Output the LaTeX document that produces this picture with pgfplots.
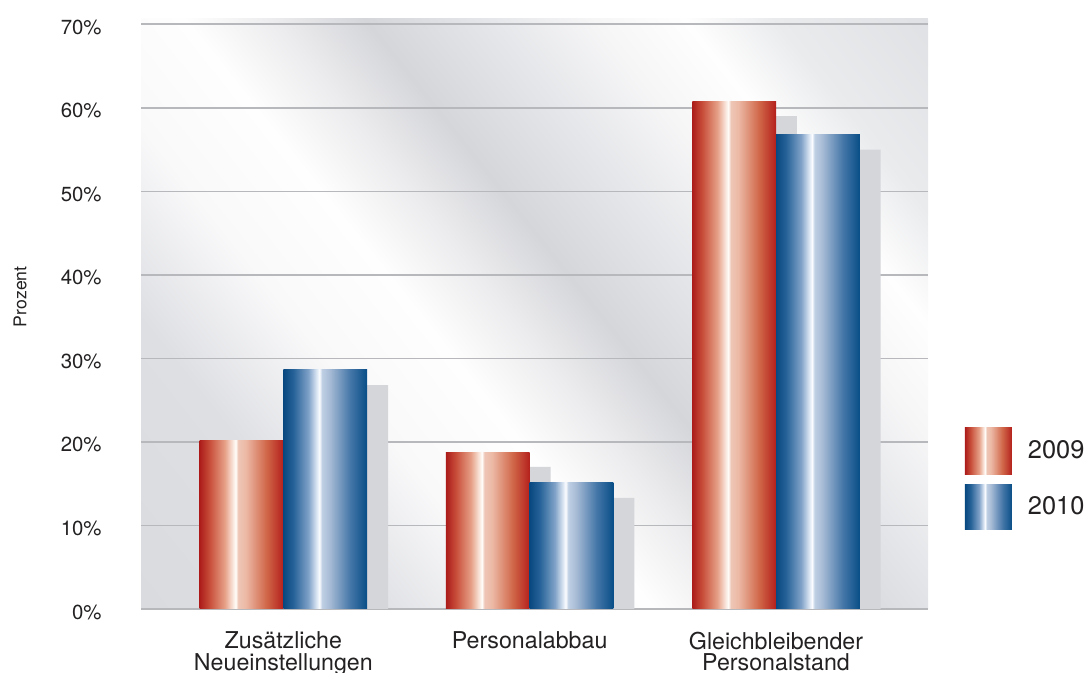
\documentclass[border=0pt]{standalone}
\usepackage{fontspec}
\setmainfont{TeX Gyre Heros}
\usepackage{pgfplots}
\pgfplotsset{compat=1.18}

% bar colours
\definecolor{rA}{RGB}{172,28,26}
\definecolor{rB}{RGB}{200,78,58}
\definecolor{rC}{RGB}{230,160,135}
\definecolor{rD}{RGB}{250,232,222}
\definecolor{rE}{RGB}{255,253,250}
\definecolor{rF}{RGB}{238,198,182}
\definecolor{rG}{RGB}{236,185,165}
\definecolor{rH}{RGB}{208,102,72}
\definecolor{rI}{RGB}{180,32,28}
\definecolor{bA}{RGB}{8,72,128}
\definecolor{bB}{RGB}{38,98,152}
\definecolor{bC}{RGB}{128,162,200}
\definecolor{bD}{RGB}{222,232,244}
\definecolor{bE}{RGB}{252,253,255}
\definecolor{bF}{RGB}{192,208,228}
\definecolor{bG}{RGB}{168,188,214}
\definecolor{bH}{RGB}{68,118,168}
\definecolor{bI}{RGB}{8,78,135}
% background
\definecolor{g221}{RGB}{218,219,223}
\definecolor{g224}{RGB}{222,223,227}
\definecolor{g248}{RGB}{249,249,250}
\definecolor{g250}{RGB}{254,254,254}
\definecolor{g238}{RGB}{236,236,238}
\definecolor{g217}{RGB}{213,214,218}
\definecolor{g232}{RGB}{230,231,234}
\definecolor{g245}{RGB}{246,246,247}
\definecolor{g236}{RGB}{234,235,237}
\definecolor{g226}{RGB}{224,225,228}
\definecolor{shadowgray}{RGB}{213,214,218}
\definecolor{gridgray}{RGB}{182,184,188}
\definecolor{txt}{RGB}{35,33,34}

\pgfdeclarehorizontalshading{redbar}{100bp}{color(0bp)=(rA); color(25bp)=(rA); color(31bp)=(rB); color(40bp)=(rC); color(45bp)=(rD); color(46.5bp)=(rE); color(48bp)=(rF); color(52.5bp)=(rG); color(65bp)=(rH); color(75bp)=(rI); color(100bp)=(rI)}
\pgfdeclarehorizontalshading{bluebar}{100bp}{color(0bp)=(bA); color(25bp)=(bA); color(31bp)=(bB); color(40bp)=(bC); color(45bp)=(bD); color(46.5bp)=(bE); color(48bp)=(bF); color(52.5bp)=(bG); color(65bp)=(bH); color(75bp)=(bI); color(100bp)=(bI)}
\pgfdeclarehorizontalshading{bgstripes}{800bp}{color(0bp)=(g221); color(90bp)=(g224); color(150bp)=(g248); color(200bp)=(g250); color(235bp)=(g238); color(270bp)=(g217); color(320bp)=(g232); color(360bp)=(g245); color(395bp)=(g250); color(430bp)=(g236); color(490bp)=(g226)}

\pgfplotsset{
  redbarstyle/.style={ybar, bar width=0.34, bar shift=-0.17, draw=none, shade, shading=redbar},
  bluebarstyle/.style={ybar, bar width=0.34, bar shift=0.17, draw=none, shade, shading=bluebar},
}

\begin{document}
\begin{tikzpicture}[x=1pt,y=1pt]
\path[use as bounding box] (0,0) rectangle (544.5,336.5);
\begin{scope}
\clip (70.5,32) rectangle (464,327);
\node[inner sep=0pt, outer sep=0pt, anchor=west, rotate=38.5] at (70.5,32) {\pgfuseshading{bgstripes}};
\end{scope}
\begin{axis}[
  at={(70.5pt,32pt)}, anchor=south west,
  scale only axis, width=393.5pt, height=292.35pt,
  xmin=-0.578, xmax=2.617, ymin=0, ymax=70,
  axis line style={draw=none},
  major tick length=0pt,
  ymajorgrids, grid style={line width=0.8pt, color=gridgray},
  ytick={0,10,...,70},
  yticklabel={\pgfmathprintnumber{\tick}\%},
  /pgf/number format/assume math mode=true,
  yticklabel style={font=\fontsize{10.2}{12}\selectfont, text=txt, inner sep=0pt, xshift=-19.5pt, yshift=-1.5pt},
  xtick={0,1,2},
  xticklabels={{Zusätzliche\\Neueinstellungen},Personalabbau,{Gleichbleibender\\Personalstand}},
  xticklabel style={font=\fontsize{11.6}{10.65}\selectfont, text=txt, align=center, inner sep=0pt, anchor=north, yshift=-11.3pt},
  ylabel={Prozent},
  ylabel style={at={(axis description cs:-0.1537,0.534)}, anchor=center, font=\fontsize{8.8}{10}\selectfont, text=txt},
  legend style={at={(axis description cs:1.047,0.3096)}, anchor=north west, draw=none, fill=none, inner sep=0pt, outer sep=0pt, row sep=5pt, column sep=8pt, font=\fontsize{12.7}{14}\selectfont, text=txt, nodes={inner sep=0pt}},
  legend cell align=left,
]
% shadows
\addplot[ybar, bar width=0.34, bar shift=-0.085, draw=none, fill=shadowgray, forget plot] coordinates {(0,18.4) (1,17.0) (2,59.0)};
\addplot[ybar, bar width=0.34, bar shift=0.255, draw=none, fill=shadowgray, forget plot] coordinates {(0,26.8) (1,13.3) (2,55.0)};
% 2009
\addplot[redbarstyle,
  legend image code/.code={\shade[shading=redbar] (0pt,-11.75pt) rectangle (23.5pt,11.75pt);}]
  coordinates {(0,20.2)};
\addlegendentry{2009}
\addplot[redbarstyle, forget plot] coordinates {(1,18.7)};
\addplot[redbarstyle, forget plot] coordinates {(2,60.7)};
% 2010
\addplot[bluebarstyle,
  legend image code/.code={\shade[shading=bluebar] (0pt,-11.25pt) rectangle (23.5pt,11.25pt);}]
  coordinates {(0,28.7)};
\addlegendentry{2010}
\addplot[bluebarstyle, forget plot] coordinates {(1,15.1)};
\addplot[bluebarstyle, forget plot] coordinates {(2,56.8)};
\end{axis}
\end{tikzpicture}
\end{document}
